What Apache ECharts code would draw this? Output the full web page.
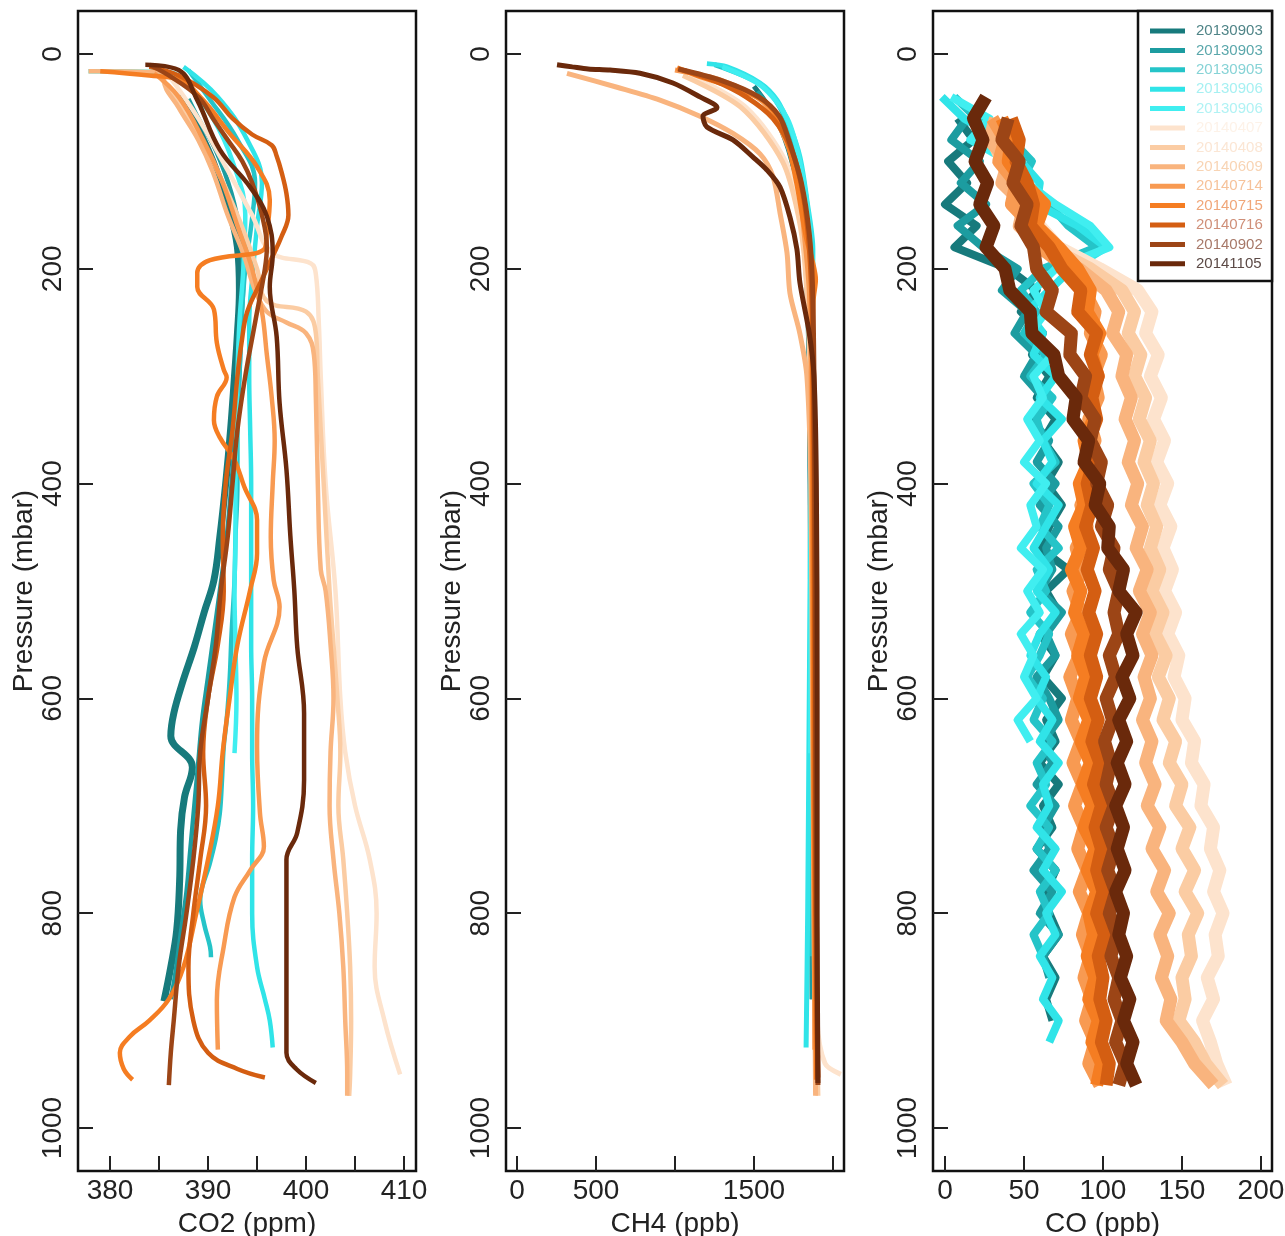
<!DOCTYPE html>
<html><head><meta charset="utf-8">
<script src="https://cdn.jsdelivr.net/npm/echarts@6/dist/echarts.min.js"></script>
<style>html,body{margin:0;padding:0;background:#fff}#c{width:1285px;height:1236px}</style>
</head><body><div id="c"></div>
<script>
// ---------- names & colours ----------
const flightNames = ['20130903','20130903','20130905','20130906','20130906','20140407','20140408','20140609','20140714','20140715','20140716','20140902','20141105'];
const lineColors = ['#177a7c','#1c9ca0','#25c4c8','#30e4e8','#40eef0','#fde3cd','#fbcca3','#f9b47e','#f89a52','#f57d22','#d45e12','#9c4516','#6a290b'];
const legendTextColors = ['#4f8487','#5aa7ab','#86d3d6','#a6f0f2','#b0f2f4','#fdf2e8','#fbe6d4','#f8d4b4','#f6c29a','#f0a678','#cf8f78','#a77868','#5c4a46'];

// ---------- tick values ----------
const pressureTicks = [0,200,400,600,800,1000];
const co2Ticks = [380,385,390,395,400,405,410];
const co2Labels = [380,390,400,410];
const ch4Ticks = [0,500,1000,1500,2000];
const ch4Labels = [0,500,1500];
const coTicks = [0,50,100,150,200];

// ---------- CO2 (ppm) profiles: pressure (mbar) and value ----------
const co2Pressure = [
 [38,50,70,100,140,180,220,260,300,350,400,450,490,520,552,585,614,635,664,692,723,770,816,850,882],
 [42,60,90,130,170,210,250,300,350,400,450,500,540,580,620,660,700,740,780,820,860,880],
 [15,40,80,120,160,200,250,300,350,400,450,490,540,583,620,645,680,707,730,753,788,810,831,841],
 [12,40,80,120,160,200,250,300,350,400,450,500,550,600,650,700,750,800,850,880,900,925],
 [16,17,30,60,100,150,200,250,300,350,400,450,500,550,600,651],
 [20,60,100,150,185,195,205,250,300,400,500,600,650,700,750,800,850,900,950],
 [20,60,100,150,200,230,240,260,300,400,500,550,600,650,700,750,800,850,900,950,970],
 [16,17,24,50,80,110,150,186,220,240,250,260,280,320,400,480,500,550,600,650,700,750,800,850,900,950,970],
 [18,40,80,120,160,200,240,280,320,360,400,450,490,515,567,645,707,738,760,785,831,881,927],
 [16,20,24,43,74,105,136,167,182,192,204,217,238,269,294,301,319,341,357,378,403,434,465,499,550,600,650,700,750,800,850,880,900,915,930,945,955],
 [12,20,40,60,75,85,95,110,130,150,170,190,210,240,270,300,350,400,450,500,550,600,650,700,750,800,850,900,930,945,953],
 [10,20,40,60,80,100,120,150,180,200,250,300,350,400,450,500,550,600,650,700,750,800,850,900,930,960],
 [10,15,43,89,124,151,186,217,263,325,387,449,499,552,614,676,725,750,800,881,930,945,958]
];
const co2Values = [
 [387.2,387.8,389.0,390.5,392.0,393.0,393.2,393.0,392.7,392.3,391.8,391.2,390.6,389.6,388.6,387.4,386.5,386.2,388.4,387.6,387.2,387.1,386.8,386.2,385.5],
 [388.0,389.0,390.8,392.4,393.3,393.6,393.4,393.2,392.8,392.4,391.9,391.2,390.6,390.0,389.4,389.0,388.6,388.2,387.8,387.2,386.6,386.2],
 [388.0,390.0,393.0,394.8,394.4,393.8,393.4,393.2,393.0,393.0,392.8,392.7,392.4,392.2,391.9,391.6,391.4,391.2,390.8,390.2,389.2,389.6,390.2,390.3],
 [387.5,391.0,394.0,395.5,395.0,394.6,394.2,394.2,394.3,394.4,394.4,394.4,394.4,394.5,394.5,394.6,394.5,394.5,395.0,395.8,396.3,396.6],
 [377.8,386.0,388.0,390.5,392.5,393.8,393.6,393.2,393.0,392.9,392.8,392.8,392.7,392.8,392.9,392.7],
 [386.0,389.0,391.5,394.5,396.5,400.5,401.0,401.3,401.5,402.0,403.0,403.5,404.0,405.0,406.5,407.2,407.0,408.0,409.6],
 [385.0,388.0,390.5,393.0,395.0,396.0,400.0,401.0,401.2,401.8,402.4,402.8,403.2,403.5,403.3,403.8,404.2,404.5,404.6,404.5,404.4],
 [377.8,386.0,385.5,387.0,389.0,390.5,392.0,393.6,394.8,396.0,398.0,400.0,400.8,401.0,401.2,401.5,402.0,402.5,402.8,402.5,402.4,402.8,403.4,403.8,404.0,404.2,404.2],
 [384.5,387.0,389.5,391.5,393.0,394.5,395.5,396.0,396.5,396.8,396.6,396.4,396.7,397.3,395.7,395.0,395.3,395.7,394.3,392.7,391.6,390.9,391.0],
 [379.0,384.0,387.1,389.5,392.2,395.0,396.3,396.0,395.7,390.2,388.9,388.9,390.6,390.9,391.6,391.9,390.9,390.6,391.2,392.7,393.7,395.0,395.0,394.3,393.0,392.2,391.5,391.0,390.0,388.8,387.5,386.0,384.0,382.0,381.0,381.4,382.3],
 [384.0,387.0,390.5,392.5,394.5,396.5,397.0,397.5,398.0,398.2,397.5,396.5,395.5,394.0,393.4,393.0,392.5,391.8,391.5,391.6,391.0,390.0,389.5,389.8,389.2,388.5,388.0,388.5,390.0,393.0,395.8],
 [384.0,386.0,389.0,390.5,392.0,393.5,394.5,395.5,396.0,395.8,394.8,393.8,393.0,392.5,392.0,391.3,390.8,390.0,389.2,389.0,388.5,387.8,387.0,386.5,386.2,386.0],
 [383.6,387.0,388.9,391.2,394.3,396.0,396.6,396.3,397.0,397.3,398.0,398.4,398.8,399.1,399.8,399.8,399.1,398.0,398.0,398.0,398.0,399.0,401.0]
];

// ---------- CH4 (ppb) profiles ----------
const ch4Pressure = [
 [30,60,100,150,200,300,500,700,880],
 [35,70,120,200,300,500,700,880],
 [10,30,60,100,150,200,300,500,700,840],
 [9,12,27,43,68,96,136,182,250,400,600,800,925],
 [12,30,60,100,160,250,400,651],
 [20,50,100,150,200,300,500,700,900,940,950],
 [20,50,100,150,200,300,500,700,900,970],
 [18,31,43,58,74,93,114,148,185,223,260,300,400,600,800,970],
 [15,25,45,80,120,170,220,300,500,700,927],
 [13,21,31,43,58,80,120,170,195,210,230,300,500,700,955],
 [15,25,40,60,90,130,180,250,400,600,800,953],
 [14,25,40,58,80,120,167,213,300,500,700,900,960],
 [10,12,14,15,18,27,40,50,58,68,80,96,108,124,152,182,213,260,300,400,600,800,958]
];
const ch4Values = [
 [1500,1640,1740,1800,1830,1850,1858,1862,1868],
 [1520,1680,1770,1835,1852,1860,1865,1870],
 [1250,1560,1700,1780,1825,1850,1860,1862,1860,1858],
 [1202,1329,1538,1646,1728,1791,1835,1873,1870,1860,1850,1840,1830],
 [1300,1550,1710,1790,1850,1865,1862,1858],
 [1100,1450,1700,1790,1830,1860,1875,1885,1900,1950,2050],
 [1050,1420,1680,1780,1825,1855,1870,1880,1895,1905],
 [316,633,905,1158,1367,1538,1620,1665,1709,1728,1790,1835,1860,1870,1880,1890],
 [1000,1300,1560,1700,1780,1820,1850,1862,1870,1878,1885],
 [1013,1158,1367,1557,1646,1709,1770,1830,1873,1890,1875,1870,1875,1880,1895],
 [1050,1250,1450,1620,1740,1810,1850,1870,1880,1885,1890,1905],
 [1020,1300,1530,1660,1720,1800,1850,1870,1880,1888,1892,1900,1905],
 [253,350,450,589,778,987,1158,1266,1177,1202,1367,1494,1582,1665,1728,1772,1791,1850,1880,1895,1900,1900,1905]
];

// ---------- CO (ppb) profiles on a common pressure grid ----------
const coPressure = [40,60,80,100,120,140,160,180,200,220,240,260,280,300,320,340,360,380,400,420,440,460,480,500,520,540,560,580,600,620,640,660,680,700,720,740,760,780,800,820,840,860,880,900,920,940,960];
const coValues = [
 [null,8,18,2,14,0,20,6,40,58,48,62,55,66,58,70,62,72,64,74,66,60,78,64,72,60,70,62,74,64,70,60,72,62,68,58,70,64,66,72,62,70,64,68,null,null,null],
 [null,14,4,22,10,26,8,24,46,36,52,44,58,50,62,54,66,58,70,60,72,64,68,60,74,64,70,58,66,72,62,68,58,70,62,66,56,68,60,72,62,66,null,null,null,null,null],
 [6,20,42,55,48,66,78,96,62,48,58,50,64,54,68,58,62,70,56,66,60,72,58,64,54,66,60,52,62,56,68,58,64,54,66,58,70,60,66,56,62,null,null,null,null,null,null],
 [-2,12,36,48,60,58,84,102,80,66,52,62,56,70,60,74,62,68,58,72,64,56,66,58,70,60,54,64,58,68,60,72,62,66,58,70,62,74,64,70,60,68,62,72,66,null,null],
 [4,28,16,40,52,70,92,104,70,56,64,54,68,56,62,52,60,50,64,54,58,48,62,52,60,48,56,50,58,46,54,null,null,null,null,null,null,null,null,null,null,null,null,null,null,null,null],
 [null,null,null,38,45,52,60,72,98,122,131,127,135,130,137,132,139,134,141,136,143,138,144,139,146,141,148,145,152,150,158,156,164,162,170,168,174,170,176,171,173,166,170,163,168,172,178],
 [null,null,30,36,42,48,56,66,92,112,120,116,124,120,127,123,130,126,132,128,134,130,136,131,138,133,140,135,142,138,146,142,150,146,155,150,158,152,160,154,156,150,152,148,158,165,176],
 [null,32,28,40,36,50,47,62,85,102,110,106,115,112,118,114,120,116,122,118,125,121,128,123,130,125,131,126,130,125,131,127,133,128,136,131,139,134,142,136,141,137,143,140,150,158,170],
 [null,30,38,34,45,42,55,60,78,88,95,92,99,94,97,91,95,89,92,86,90,83,87,81,86,80,85,79,84,80,86,81,87,82,88,84,90,85,91,87,92,88,93,89,95,91,98],
 [null,36,42,40,50,63,58,72,84,92,90,98,93,97,91,94,88,91,85,88,82,86,80,86,82,88,84,89,85,91,86,92,87,93,88,95,90,96,91,94,90,95,91,97,93,99,96],
 [null,42,47,45,52,56,54,66,74,86,84,96,92,97,93,96,91,94,90,93,89,94,90,95,91,96,92,96,92,97,93,98,94,99,95,99,96,100,96,101,97,100,98,102,99,104,102],
 [null,40,36,47,43,52,48,56,58,68,64,80,79,89,86,95,92,99,96,103,99,107,104,110,107,110,104,108,102,106,101,105,102,107,102,107,103,108,104,109,105,110,107,112,108,114,110],
 [26,18,24,19,27,22,31,26,38,41,54,55,69,72,83,81,91,88,98,95,104,103,113,110,121,115,119,112,117,110,115,109,114,108,113,109,114,108,113,110,115,111,117,113,119,115,121]
];

// ---------- build ----------
const FONT = "'Liberation Sans', Arial, sans-serif";
function pairs(vals, pres){
  const out = [];
  for (let i = 0; i < pres.length; i++) {
    if (vals[i] !== null && vals[i] !== undefined) out.push([vals[i], pres[i]]);
  }
  return out;
}
const plain = v => String(v);
const gridDefs = [
  {left: 78, top: 11, width: 338, height: 1160},
  {left: 506, top: 11, width: 338, height: 1160},
  {left: 933, top: 11, width: 339, height: 1160}
];
const grids = gridDefs.map(g => Object.assign({show: true, borderColor: '#111', borderWidth: 2.5, backgroundColor: 'transparent', containLabel: false, outerBoundsMode: 'none'}, g));

function xAxisDef(idx, min, max, ticks, labels, name){
  return {
    type: 'value', gridIndex: idx, min: min, max: max, position: 'bottom',
    splitLine: {show: false}, axisLine: {show: false, onZero: false},
    axisTick: {show: true, inside: true, length: 15, lineStyle: {color: '#222', width: 2}, customValues: ticks},
    axisLabel: {show: true, customValues: labels, formatter: plain, fontSize: 28, color: '#222', fontFamily: FONT, margin: 6},
    name: name, nameLocation: 'middle', nameGap: 34,
    nameTextStyle: {fontSize: 28, color: '#222', fontFamily: FONT}
  };
}
function yAxisDef(idx){
  return {
    type: 'value', gridIndex: idx, min: -40, max: 1040, inverse: true, position: 'left',
    splitLine: {show: false}, axisLine: {show: false, onZero: false},
    axisTick: {show: true, inside: true, length: 15, lineStyle: {color: '#222', width: 2}, customValues: pressureTicks},
    axisLabel: {show: true, customValues: pressureTicks, formatter: plain, rotate: 90, fontSize: 28, color: '#222', fontFamily: FONT, margin: 11},
    name: 'Pressure (mbar)', nameLocation: 'middle', nameRotate: 90, nameGap: 33,
    nameTextStyle: {fontSize: 28, color: '#222', fontFamily: FONT}
  };
}

const series = [];
for (let i = 0; i < 13; i++) {
  series.push({type: 'line', xAxisIndex: 0, yAxisIndex: 0, showSymbol: false, smooth: 0.4,
    lineStyle: {color: lineColors[i], width: i === 0 ? 7 : 4.5}, data: pairs(co2Values[i], co2Pressure[i])});
}
for (let i = 0; i < 13; i++) {
  series.push({type: 'line', xAxisIndex: 1, yAxisIndex: 1, showSymbol: false, smooth: 0.3,
    lineStyle: {color: lineColors[i], width: 5}, data: pairs(ch4Values[i], ch4Pressure[i])});
}
for (let i = 0; i < 13; i++) {
  series.push({type: 'line', xAxisIndex: 2, yAxisIndex: 2, showSymbol: false, smooth: false,
    lineStyle: {color: lineColors[i], width: i < 5 ? 8 : 13, join: 'round'}, data: pairs(coValues[i], coPressure)});
}

// legend drawn as graphic (duplicate names in the original)
const legendChildren = [{
  type: 'rect', shape: {x: 1138, y: 11, width: 134, height: 270},
  style: {fill: '#fff', stroke: '#111', lineWidth: 2.5}
}];
for (let i = 0; i < 13; i++) {
  const y = 31 + i * 19.4;
  legendChildren.push({type: 'line', shape: {x1: 1150, y1: y, x2: 1185, y2: y},
    style: {stroke: lineColors[i], lineWidth: 5}});
  legendChildren.push({type: 'text', x: 1196, y: y,
    style: {text: flightNames[i], fill: legendTextColors[i], font: '15px ' + FONT, verticalAlign: 'middle'}});
}

const chart = echarts.init(document.getElementById('c'), null, {renderer: 'canvas'});
chart.setOption({
  animation: false,
  backgroundColor: '#fff',
  grid: grids,
  xAxis: [
    xAxisDef(0, 376.73, 411.22, co2Ticks, co2Labels, 'CO2 (ppm)'),
    xAxisDef(1, -70, 2070, ch4Ticks, ch4Labels, 'CH4 (ppb)'),
    xAxisDef(2, -7.6, 207, coTicks, coTicks, 'CO (ppb)')
  ],
  yAxis: [yAxisDef(0), yAxisDef(1), yAxisDef(2)],
  series: series,
  graphic: [{type: 'group', z: 100, children: legendChildren}]
});
</script></body></html>
